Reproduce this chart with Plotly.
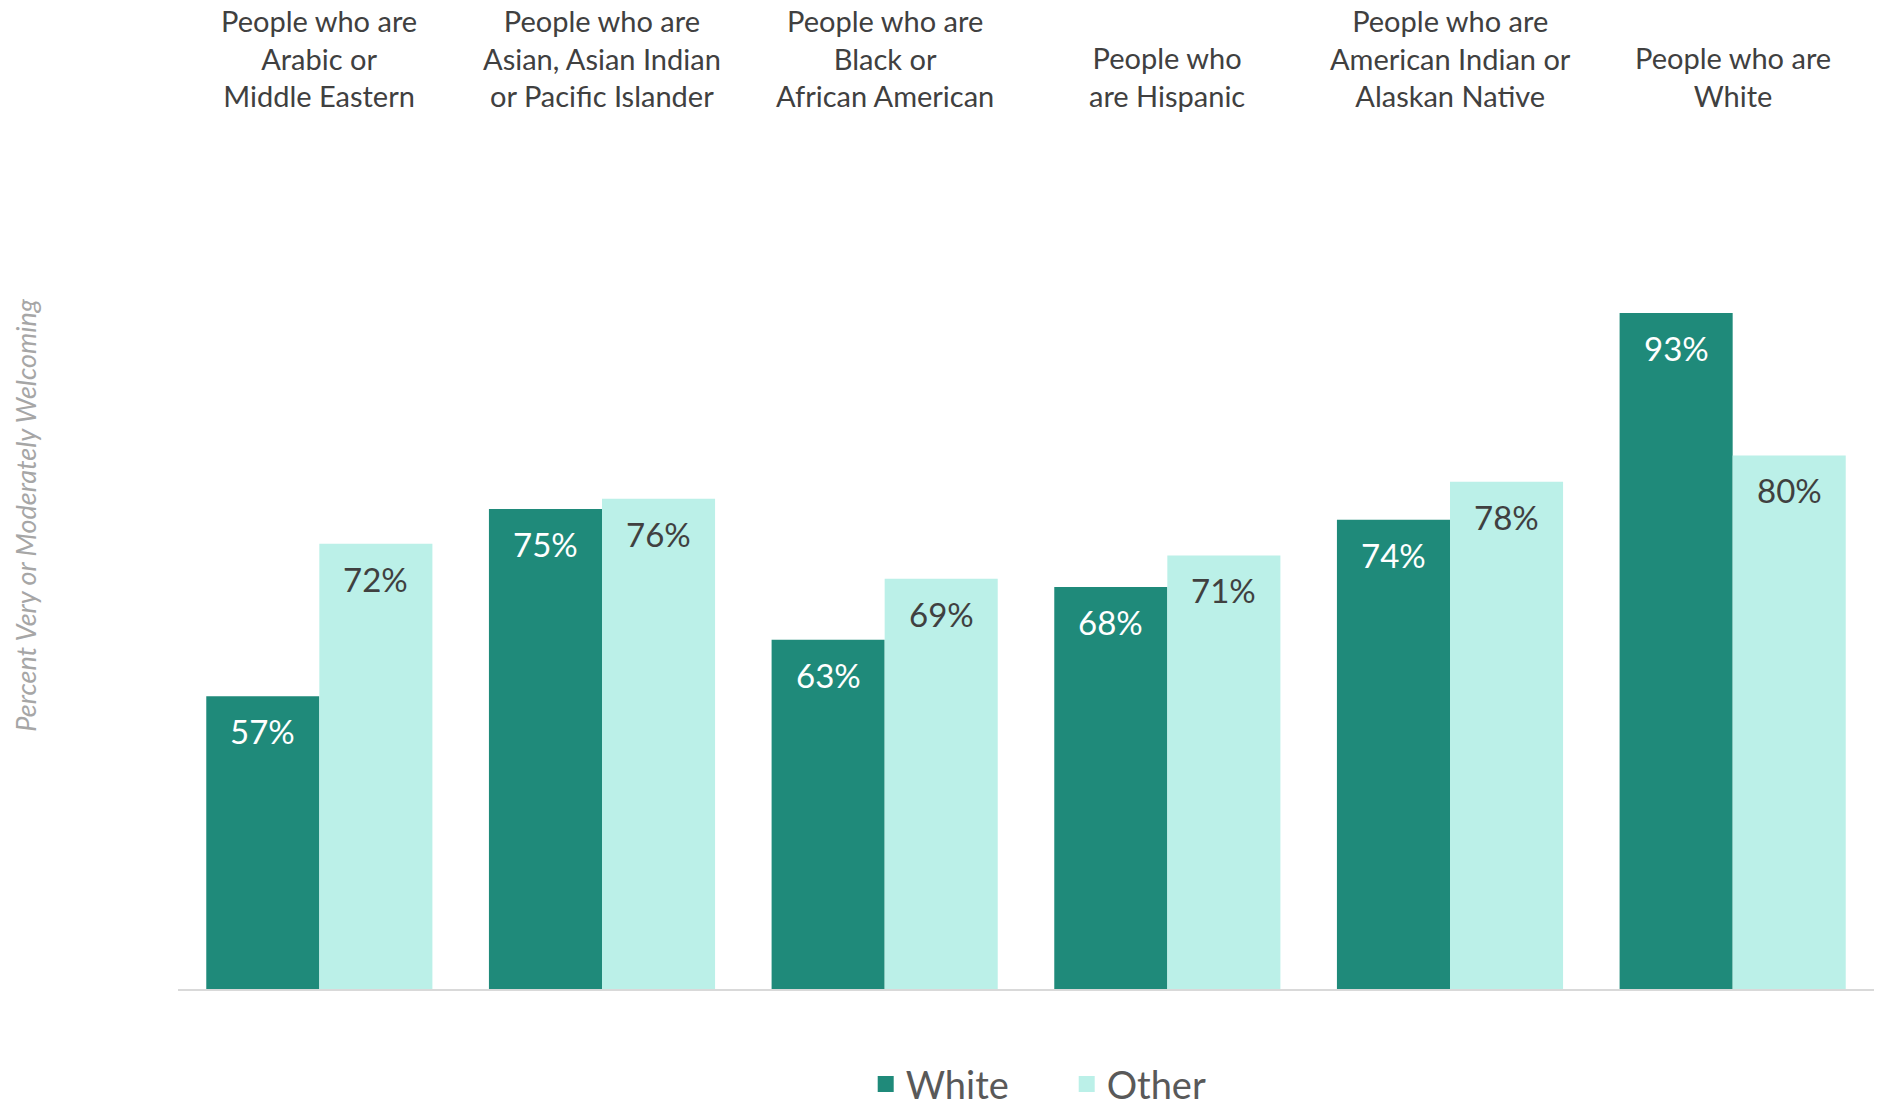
import plotly.graph_objects as go

categories = [
    "People who are<br>Arabic or<br>Middle Eastern",
    "People who are<br>Asian, Asian Indian<br>or Pacific Islander",
    "People who are<br>Black or<br>African American",
    "People who<br>are Hispanic",
    "People who are<br>American Indian or<br>Alaskan Native",
    "People who are<br>White",
]
# bar heights
white_values = [57.64, 75.10, 62.92, 67.83, 74.10, 93.36]
other_values = [71.86, 76.06, 68.60, 70.77, 77.64, 80.09]
# printed labels
white_labels = ["57%", "75%", "63%", "68%", "74%", "93%"]
other_labels = ["72%", "76%", "69%", "71%", "78%", "80%"]
series_names = ["White", "Other"]

DARK = "#1F8A7A"
LIGHT = "#BBF0E8"
FONT = "Lato, 'Open Sans', sans-serif"

fig = go.Figure()
fig.add_trace(go.Bar(x=categories, y=white_values, name=series_names[0],
                     marker=dict(color=DARK, line=dict(width=0)), showlegend=False))
fig.add_trace(go.Bar(x=categories, y=other_values, name=series_names[1],
                     marker=dict(color=LIGHT, line=dict(width=0)), showlegend=False))
# legend entries with larger square swatches
for name, col in zip(series_names, [DARK, LIGHT]):
    fig.add_trace(go.Scatter(x=[None], y=[None], mode="markers", name=name,
                             marker=dict(symbol="square", size=20, color=col),
                             showlegend=True))

annotations = []
# value labels inside the top of each bar
for vals, labs, shift, col in [(white_values, white_labels, -56.5, "#FFFFFF"),
                               (other_values, other_labels, 56.5, "#404040")]:
    for c, v, t in zip(categories, vals, labs):
        annotations.append(dict(x=c, y=v, xref="x", yref="y", text=t,
                                showarrow=False, xshift=shift, yshift=-13,
                                yanchor="top", xanchor="center",
                                font=dict(family=FONT, size=33, color=col)))
# category labels at top
for c in categories:
    annotations.append(dict(x=c, y=1.1635, xref="x", yref="paper", text=c,
                            showarrow=False, yanchor="bottom", xanchor="center",
                            font=dict(family=FONT, size=29, color="#404040")))
# y-axis title
annotations.append(dict(x=-0.1008, y=0.631, xref="paper", yref="paper",
                        text="<i>Percent Very or Moderately Welcoming</i>",
                        textangle=-90, showarrow=False,
                        font=dict(family=FONT, size=27, color="#A6A6A6")))

fig.update_layout(
    width=1883, height=1103,
    margin=dict(l=178, r=9, t=238, b=114, autoexpand=False),
    paper_bgcolor="white", plot_bgcolor="white",
    barmode="group", bargap=0.2, bargroupgap=0,
    xaxis=dict(showticklabels=False, ticks="", showgrid=False,
               showline=True, linecolor="#D9D9D9", linewidth=2),
    yaxis=dict(range=[30.38, 100.34], visible=False),
    legend=dict(orientation="h", x=0.524, xanchor="center", y=-0.127,
                yanchor="middle", font=dict(family=FONT, size=38, color="#595959"),
                itemwidth=30, entrywidth=156, itemsizing="trace"),
    annotations=annotations,
    showlegend=True,
)

fig.write_html("out.html",
               config={"displayModeBar": False},
               post_script="document.body.style.margin='0';document.body.style.overflow='hidden';")
